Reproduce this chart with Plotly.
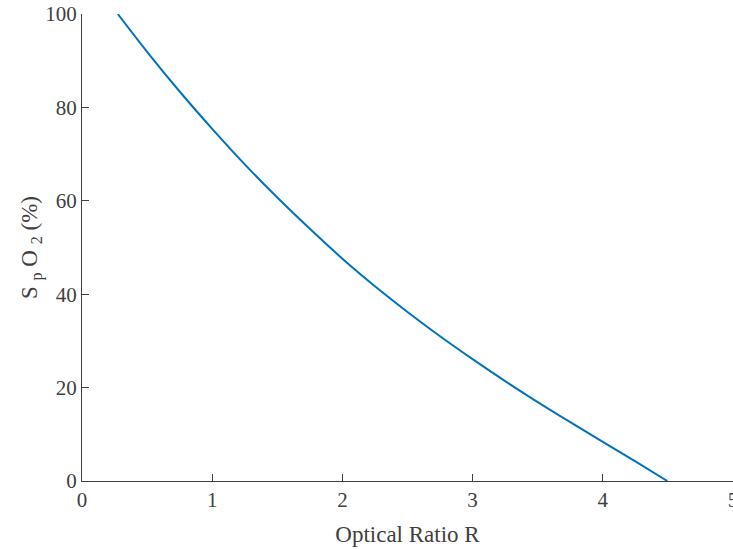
import plotly.graph_objects as go

ratio_r = [0.275, 0.5, 0.75, 1.0, 1.25, 1.5, 1.75, 2.0, 2.25, 2.5, 2.75, 3.0,
           3.25, 3.5, 3.75, 4.0, 4.25, 4.496]
spo2 = [100.0, 91.9, 83.4, 75.4, 67.8, 60.7, 54.0, 47.6, 41.7, 36.2, 31.0, 26.1,
        21.4, 16.9, 12.6, 8.4, 4.2, 0.0]

x_ticks = [0, 1, 2, 3, 4, 5]
y_ticks = [0, 20, 40, 60, 80, 100]

axis_col = "#404040"
font_fam = "Liberation Serif, Times New Roman, serif"

fig = go.Figure()
fig.add_trace(go.Scatter(
    x=ratio_r, y=spo2, mode="lines", line=dict(color="#0072BD", width=2, shape="spline"),
    showlegend=False, hoverinfo="skip"))

fig.update_layout(
    width=733, height=549,
    margin=dict(l=82, r=0, t=14, b=68),
    paper_bgcolor="white", plot_bgcolor="white",
    font=dict(family=font_fam, size=21, color=axis_col),
)
fig.update_xaxes(
    range=[0, 5], tickvals=x_ticks, ticktext=[str(v) for v in x_ticks],
    showgrid=False, zeroline=False, showline=True, linecolor=axis_col, linewidth=1,
    ticks="inside", ticklen=7, tickcolor=axis_col, tickwidth=1,
    tickfont=dict(family=font_fam, size=21, color=axis_col),
    ticklabeloverflow="allow",
    title=dict(text="Optical Ratio R", standoff=14,
               font=dict(family=font_fam, size=23, color=axis_col)),
    automargin=False,
)
fig.update_yaxes(
    range=[0, 100], tickvals=y_ticks, ticktext=[str(v) for v in y_ticks],
    showgrid=False, zeroline=False, showline=True, linecolor=axis_col, linewidth=1,
    ticks="inside", ticklen=7, tickcolor=axis_col, tickwidth=1,
    tickfont=dict(family=font_fam, size=21, color=axis_col),
    ticklabeloverflow="allow",
    title=dict(text="S <sub>p</sub> O <sub>2</sub> (%)", standoff=1,
               font=dict(family=font_fam, size=23, color=axis_col)),
    automargin=False,
)

fig.write_html(
    "out.html",
    config={"displayModeBar": False},
    post_script="document.body.style.margin='0';document.body.style.overflow='hidden';",
)
